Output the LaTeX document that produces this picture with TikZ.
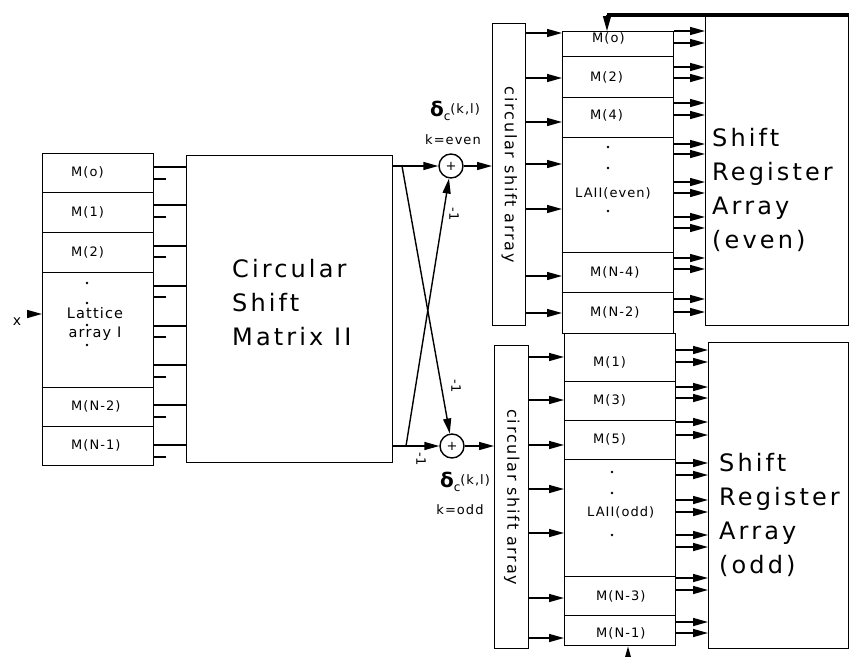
\documentclass[tikz,border=0pt]{standalone}
\usepackage{fontspec}
\setmainfont{DejaVu Sans}
\newfontfamily\smallfam[LetterSpace=8]{DejaVu Sans}
\newfontfamily\bigfam[LetterSpace=13]{DejaVu Sans}
\newfontfamily\csafam[LetterSpace=11]{DejaVu Sans}
\usetikzlibrary{arrows.meta}
\newcommand\smallfnt{\smallfam\fontsize{13}{19}\selectfont}
\newcommand\bigfnt{\bigfam\fontsize{24}{34}\selectfont}
\newcommand\mybox[5]{\node[box,anchor=north west,minimum width=#4pt,minimum height=#5pt] (#1) at (#2,#3) {};}
\begin{document}
\begin{tikzpicture}[x=1pt,y=-1pt,
  box/.style={draw,line width=1.4pt,inner sep=0pt},
  wire/.style={line width=1.4pt},
  arr/.style={line width=1.4pt,-{Triangle[length=15pt,width=8pt]}},
  lbl/.style={font=\smallfnt,inner sep=0pt},
  sum/.style={draw,circle,line width=1.4pt,minimum size=24pt,inner sep=0pt,font=\smallfnt},
  dotc/.style={fill,circle,inner sep=0pt,minimum size=2.6pt}]
\useasboundingbox (0,0) rectangle (851,656);
% Lattice array I
\mybox{li0}{42}{153}{111}{39}
\mybox{li1}{42}{192}{111}{40}
\mybox{li2}{42}{232}{111}{40}
\mybox{li3}{42}{272}{111}{115}
\mybox{li4}{42}{387}{111}{39}
\mybox{li5}{42}{426}{111}{39}
\node[lbl,anchor=west] (t0) at (71,172) {M(o)};
\node[lbl,anchor=west] (t1) at (71,212) {M(1)};
\node[lbl,anchor=west] (t2) at (71,252) {M(2)};
\node[lbl,anchor=west] (t4) at (71,406) {M(N-2)};
\node[lbl,anchor=west] (t5) at (71,445) {M(N-1)};
\node[lbl,align=center,font=\smallfam\fontsize{14.5}{19}\selectfont] (t3) at (95,324) {Lattice\\array I};
\foreach \y [count=\i] in {283,303,325,345} \node[dotc] (ld\i) at (87,\y) {};
% input
\node[lbl,font=\smallfam\fontsize{14}{14}\selectfont] (xin) at (17,322) {x};
\coordinate (xa) at (28,314);
\draw[arr] (xa) -- (li3.west |- xa);
% Circular shift matrix
\mybox{mx}{186}{155}{206}{307}
\node[font=\bigfnt,align=left,anchor=west,inner sep=0pt] (mxt) at (232,303) {Circular\\Shift\\Matrix II};
\foreach \y in {167,205,246,286,326,365,405,445}
  \draw[wire] (li0.east |- 0,\y) -- (mx.west |- 0,\y);
\foreach \y in {179,217,257,297,337,377,417,457}
  \draw[wire] (li0.east |- 0,\y) -- ++(12,0);
% summers
\node[sum] (s1) at (451,166) {+};
\node[sum] (s2) at (452,446) {+};
\coordinate (c1) at (402,166);
\coordinate (c2) at (406,446);
\draw[arr] (mx.east |- s1) -- (s1);
\draw[arr] (mx.east |- s2) -- (s2);
\draw[arr] (c1) -- (s2);
\draw[arr] (c2) -- (s1);
\node[lbl,rotate=-90] (m1a) at (454,214) {-1};
\node[lbl,rotate=-90] (m1b) at (456,386) {-1};
\node[lbl,rotate=-90] (m1c) at (421,459) {-1};
\node[inner sep=0pt] (d1) at (455,111) {\fontsize{20}{20}\selectfont\bfseries δ\raisebox{-4pt}{\mdseries\smallfam\fontsize{12}{12}\selectfont c}\raisebox{3pt}{\mdseries\smallfnt(k,l)}};
\node[lbl] (k1) at (453,140) {k=even};
\node[inner sep=0pt] (d2) at (465,482) {\fontsize{20}{20}\selectfont\bfseries δ\raisebox{-4pt}{\mdseries\smallfam\fontsize{12}{12}\selectfont c}\raisebox{3pt}{\mdseries\smallfnt(k,l)}};
\node[lbl] (k2) at (460,510) {k=odd};
% circular shift arrays
\mybox{csa1}{492}{23}{33}{302}
\mybox{csa2}{494}{345}{34}{303}
\node[font=\csafam\fontsize{16}{16}\selectfont,rotate=-90,inner sep=0pt] (csat1) at (csa1.center) {circular shift array};
\node[font=\csafam\fontsize{16}{16}\selectfont,rotate=-90,inner sep=0pt] (csat2) at (csa2.center) {circular shift array};
\draw[arr] (s1) -- (csa1.west |- s1);
\draw[arr] (s2) -- (csa2.west |- s2);
% lattice II even
\mybox{le0}{562}{31}{111}{25}
\mybox{le1}{562}{56}{111}{41}
\mybox{le2}{562}{97}{111}{40}
\mybox{le3}{562}{137}{111}{115}
\mybox{le4}{562}{252}{111}{40}
\mybox{le5}{562}{292}{111}{41}
\node[lbl,anchor=west] (e0) at (592,38) {M(o)};
\node[lbl,anchor=west] (e1) at (590,77) {M(2)};
\node[lbl,anchor=west] (e2) at (590,115) {M(4)};
\node[lbl,anchor=west] (e3) at (575,193) {LAII(even)};
\node[lbl,anchor=west] (e4) at (590,272) {M(N-4)};
\node[lbl,anchor=west] (e5) at (590,312) {M(N-2)};
\foreach \y [count=\i] in {147,168,211} \node[dotc] (ed\i) at (608,\y) {};
% lattice II odd
\mybox{lo0}{564}{333}{111}{48}
\mybox{lo1}{564}{381}{111}{39}
\mybox{lo2}{564}{420}{111}{39}
\mybox{lo3}{564}{459}{111}{117}
\mybox{lo4}{564}{576}{111}{39}
\mybox{lo5}{564}{615}{111}{30}
\node[lbl,anchor=west] (o0) at (593,362) {M(1)};
\node[lbl,anchor=west] (o1) at (593,400) {M(3)};
\node[lbl,anchor=west] (o2) at (593,439) {M(5)};
\node[lbl,anchor=west] (o3) at (587,512) {LAII(odd)};
\node[lbl,anchor=west] (o4) at (596,596) {M(N-3)};
\node[lbl,anchor=west] (o5) at (596,633) {M(N-1)};
\foreach \y [count=\i] in {472,493,535} \node[dotc] (od\i) at (612,\y) {};
\foreach \y in {33,78,122,164,209,276,313}
  \draw[arr] (csa1.east |- 0,\y) -- (le0.west |- 0,\y);
\foreach \y in {357,400,445,489,533,598,638}
  \draw[arr] (csa2.east |- 0,\y) -- (lo0.west |- 0,\y);
% shift registers
\mybox{r1}{705}{15}{143}{310}
\mybox{r2}{708}{342}{140}{306}
\node[font=\bigfnt,align=left,anchor=west,inner sep=0pt] (r1t) at (712,190) {Shift\\Register\\Array\\(even)};
\node[font=\bigfnt,align=left,anchor=west,inner sep=0pt] (r2t) at (719,515) {Shift\\Register\\Array\\(odd)};
\foreach \y in {31,43,67,78,103,115,144,154,182,193,217,228,258,269,299,312}
  \draw[arr] (le0.east |- 0,\y) -- (r1.west |- 0,\y);
\foreach \y in {350,362,387,398,422,435,463,475,500,512,535,547,578,590,622,633}
  \draw[arr] (lo0.east |- 0,\y) -- (r2.west |- 0,\y);
% feedback bars
\coordinate (tb) at (607,15);
\draw[line width=4.5pt] (r1.north east) -- (tb);
\draw[arr] (tb) -- (le0.north -| tb);
\coordinate (bt) at (628,656);
\draw[arr] (bt) -- (lo5.south -| bt);
\end{tikzpicture}
\end{document}
